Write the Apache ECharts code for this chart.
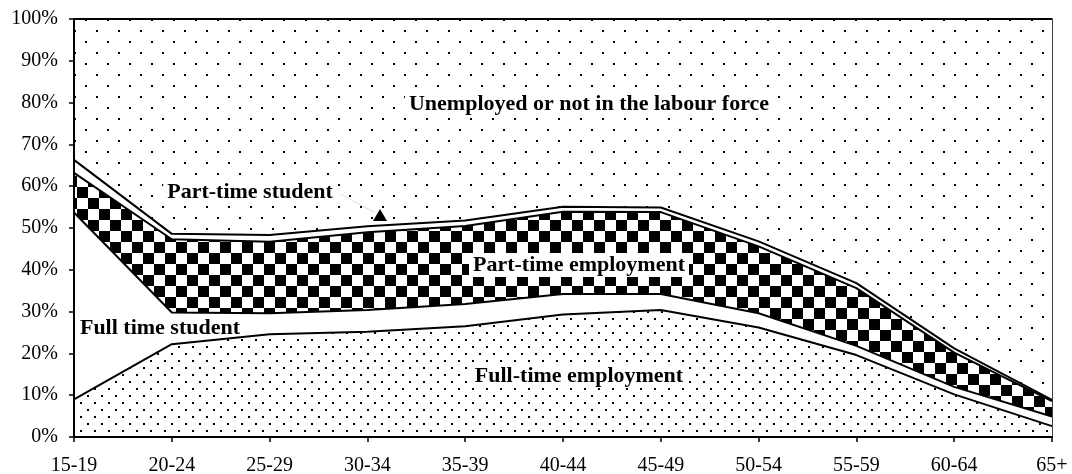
<!DOCTYPE html>
<html>
<head>
<meta charset="utf-8">
<title>Activity by age</title>
<script src="https://cdn.jsdelivr.net/npm/echarts@6/dist/echarts.min.js"></script>
<style>
  html, body { margin: 0; padding: 0; background: #ffffff; }
  #chart { width: 1072px; height: 474px; }
</style>
</head>
<body>
<div id="chart"></div>
<script>
  // age groups on the x axis
  const ageGroups = ['15-19', '20-24', '25-29', '30-34', '35-39', '40-44', '45-49', '50-54', '55-59', '60-64', '65+'];

  // shares in %, stacked bottom to top
  const fullTimeEmployment = [9.0, 22.2, 24.6, 25.2, 26.5, 29.3, 30.4, 26.2, 19.6, 10.2, 2.6];
  const fullTimeStudent    = [44.7, 7.6, 5.0, 5.2, 5.3, 4.9, 3.8, 3.4, 2.2, 1.8, 2.3];
  const partTimeEmployment = [9.5, 17.5, 17.1, 18.6, 18.7, 19.7, 19.6, 16.0, 13.8, 8.2, 3.7];
  const partTimeStudent    = [3.1, 1.3, 1.6, 1.4, 1.3, 1.2, 1.1, 1.2, 1.2, 1.0, 0.3];
  const notInLabourForce   = [33.7, 51.4, 51.7, 49.6, 48.2, 44.9, 45.1, 53.2, 63.2, 78.8, 91.1];

  const FONT = '"Liberation Serif", "Times New Roman", serif';

  // small canvas tiles used as fill patterns
  function makeTile(w, h, draw) {
    let c = document.createElement('canvas');
    c.width = w;
    c.height = h;
    let ctx = c.getContext('2d');
    ctx.fillStyle = '#ffffff';
    ctx.fillRect(0, 0, w, h);
    ctx.fillStyle = '#000000';
    draw(ctx);
    return { image: c, repeat: 'repeat' };
  }
  let sparseDots = makeTile(22, 22, function (ctx) {
    ctx.fillRect(8, 8, 2, 2);
    ctx.fillRect(19, 19, 2, 2);
  });
  let denseDots = makeTile(14, 14, function (ctx) {
    ctx.fillRect(3, 3, 2, 2);
    ctx.fillRect(10, 10, 2, 2);
  });
  let checker = makeTile(22, 22, function (ctx) {
    ctx.fillRect(0, 0, 11, 11);
    ctx.fillRect(11, 11, 11, 11);
  });

  function layer(name, data, fill) {
    return {
      name: name,
      type: 'line',
      stack: 'total',
      data: data,
      symbol: 'none',
      lineStyle: { color: '#000', width: 2 },
      areaStyle: { color: fill, opacity: 1 },
      z: 2
    };
  }

  function note(text, x, y) {
    return {
      type: 'text',
      x: x,
      y: y,
      z: 10,
      style: {
        text: text,
        font: 'bold 22px ' + FONT,
        fill: '#000',
        align: 'center',
        verticalAlign: 'middle',
        backgroundColor: '#ffffff',
        padding: [1, 4]
      }
    };
  }

  let chart = echarts.init(document.getElementById('chart'));
  let option = {
    animation: false,
    backgroundColor: '#ffffff',
    grid: {
      left: 74, right: 20, top: 19, bottom: 37,
      outerBoundsMode: 'none',
      show: true, borderColor: '#000', borderWidth: 1.5,
      backgroundColor: 'transparent'
    },
    xAxis: {
      type: 'category',
      data: ageGroups,
      boundaryGap: false,
      axisLine: { show: true, lineStyle: { color: '#000', width: 2 } },
      axisTick: { show: true, length: 5, lineStyle: { color: '#000', width: 1.5 } },
      axisLabel: { color: '#000', fontFamily: FONT, fontSize: 20, margin: 19, interval: 0 },
      splitLine: { show: false },
      z: 5
    },
    yAxis: {
      type: 'value',
      min: 0,
      max: 100,
      interval: 10,
      axisLine: { show: true, lineStyle: { color: '#000', width: 2 } },
      axisTick: { show: true, length: 5, lineStyle: { color: '#000', width: 1.5 } },
      axisLabel: { color: '#000', fontFamily: FONT, fontSize: 20, margin: 16, formatter: '{value}%' },
      splitLine: { show: false },
      z: 5
    },
    series: [
      layer('Full-time employment', fullTimeEmployment, denseDots),
      layer('Full time student', fullTimeStudent, '#ffffff'),
      layer('Part-time employment', partTimeEmployment, checker),
      layer('Part-time student', partTimeStudent, '#ffffff'),
      layer('Unemployed or not in the labour force', notInLabourForce, sparseDots)
    ],
    graphic: [
      note('Unemployed or not in the labour force', 589, 104),
      note('Part-time student', 250, 192),
      note('Part-time employment', 579, 265),
      note('Full-time employment', 579, 376),
      {
        type: 'text', x: 160, y: 328, z: 10,
        style: { text: 'Full time student', font: 'bold 22px ' + FONT, fill: '#000', align: 'center', verticalAlign: 'middle' }
      },
      // faint pointer from the part-time student label
      {
        type: 'line', z: 9,
        shape: { x1: 340, y1: 194, x2: 374, y2: 212 },
        style: { stroke: '#dddddd', lineWidth: 1 }
      },
      {
        type: 'polygon', z: 10,
        shape: { points: [[373, 221], [387, 221], [380, 209]] },
        style: { fill: '#000' }
      }
    ]
  };
  chart.setOption(option);
</script>
</body>
</html>
